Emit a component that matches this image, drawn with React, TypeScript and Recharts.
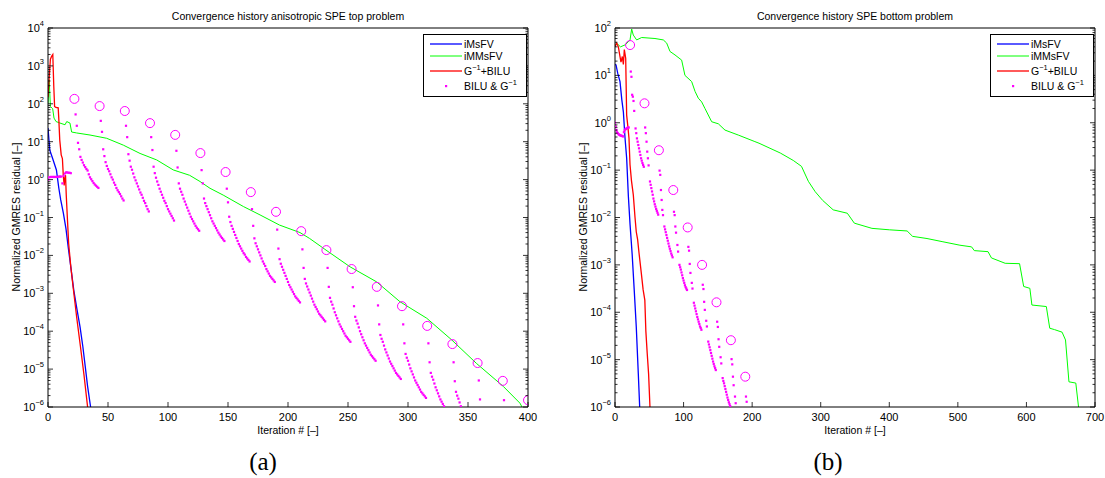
import React from 'react';
import { ComposedChart, Line, Scatter, XAxis, YAxis, Legend } from 'recharts';

// ---------- (a) anisotropic SPE top problem ----------
const xTicksA = [0, 50, 100, 150, 200, 250, 300, 350, 400];
const yMajorA = [1e-6, 1e-5, 1e-4, 1e-3, 1e-2, 1e-1, 1e0, 1e1, 1e2, 1e3, 1e4];

// [iteration, residual]
const msfvA = [[0, 23], [1.5, 6], [4, 3.5], [7, 1.8], [9, 0.6], [10.6, 0.29], [12.8, 0.13], [15, 0.05], [17, 0.015], [19, 5e-3], [21.5, 1.2e-3], [24, 4e-4], [26.7, 1.3e-4], [29, 4e-5], [31, 1.2e-5], [33, 3.5e-6], [35.5, 1e-6]];
const mmsfvA = [[0, 100], [1, 430], [2, 85], [3.9, 74], [5, 42], [6.7, 34], [10, 31], [14.2, 28], [15.6, 34], [18.3, 31], [19.7, 18], [23.9, 17], [35, 15], [48.9, 12.3], [62.8, 8.1], [76.7, 4.9], [90.6, 3.3], [104.4, 1.8], [118, 1.3], [126.7, 0.89], [135, 0.59], [146, 0.39], [162.8, 0.195], [176.7, 0.117], [193, 0.063], [210, 0.04], [218, 0.028], [231.7, 0.0138], [251.7, 0.005], [273.9, 0.002], [293.3, 6e-4], [315.6, 2.2e-4], [336.4, 5.9e-5], [357.2, 1.4e-5], [379.4, 3.5e-6], [393.3, 1.26e-6], [395, 1e-6]];
const gbiluA = [[0, 150], [1, 500], [2, 1500], [3, 1800], [4, 2000], [4.8, 300], [5.5, 85], [6.5, 80], [8.5, 78], [9, 40], [9.8, 11], [11, 4.5], [12, 3.6], [12.8, 1.2], [13.5, 0.7], [14, 1.1], [14.6, 1.3], [15.2, 0.4], [16, 0.12], [17.2, 0.021], [19, 5e-3], [21, 1.4e-3], [24, 2.2e-4], [27, 4e-5], [30, 7e-6], [33, 1e-6]];

// BILU & G^-1: log10 residual, first iterations 0..19
const earlyDotsA = [0.0, 0.06, 0.07, 0.07, 0.07, 0.07, 0.07, 0.07, 0.07, 0.08, 0.08, 0.08, -0.1, 0.1, 0.16, 0.19, 0.19, 0.18, 0.18, 0.17];
// restart iterations (circles) and their log10 residual
const restartsA = [22, 43, 64, 85, 106, 127, 148, 169, 190, 211, 232, 253, 274, 295, 316, 337, 358, 379, 400];
const circlesA = [2.13, 1.94, 1.81, 1.49, 1.18, 0.70, 0.20, -0.33, -0.85, -1.36, -1.86, -2.36, -2.83, -3.34, -3.86, -4.34, -4.84, -5.31, -5.82];
// log10 residual at iterations restart+1, restart+2, ...
const cyclesA: (number | null)[][] = [
  [1.72, 1.42, 0.97, 0.80, 0.60, 0.52, 0.45, 0.38, 0.33, 0.28, 0.24, 0.14, 0.06, 0.01, -0.04, -0.09, -0.13, -0.16, -0.19, -0.22],
  [1.55, 1.26, 0.80, 0.62, 0.46, 0.36, 0.28, 0.22, 0.14, 0.06, 0.0, -0.08, -0.14, -0.22, -0.28, -0.33, -0.38, -0.44, -0.50, -0.55],
  [1.42, 1.12, 0.67, 0.50, 0.34, 0.26, 0.16, 0.06, -0.02, -0.10, -0.18, -0.26, -0.34, -0.40, -0.48, -0.56, -0.62, -0.70, -0.78, -0.84],
  [1.12, 0.78, 0.34, 0.17, 0.05, -0.05, -0.14, -0.24, -0.32, -0.40, -0.48, -0.56, -0.62, -0.70, -0.78, -0.84, -0.90, -0.96, -1.02, -1.08],
  [0.76, 0.32, -0.10, -0.24, -0.32, -0.40, -0.50, -0.58, -0.66, -0.74, -0.82, -0.90, -0.98, -1.04, -1.10, -1.16, -1.22, -1.27, -1.31, -1.35],
  [0.25, -0.10, -0.50, -0.62, -0.70, -0.78, -0.86, -0.94, -1.02, -1.10, -1.16, -1.22, -1.28, -1.34, -1.40, -1.45, -1.50, -1.54, -1.58, -1.62],
  [-0.24, -0.60, -0.98, -1.12, -1.22, -1.30, -1.38, -1.46, -1.54, -1.62, -1.70, -1.76, -1.82, -1.88, -1.94, -1.98, -2.04, -2.08, -2.12, -2.16],
  [-0.78, -1.22, -1.55, -1.68, -1.76, -1.84, -1.92, -2.00, -2.08, -2.16, -2.22, -2.28, -2.36, -2.42, -2.48, -2.54, -2.58, -2.62, -2.66, -2.70],
  [-1.32, -1.82, -2.10, -2.22, -2.30, -2.38, -2.46, -2.54, -2.62, -2.70, -2.78, -2.84, -2.90, -2.96, -3.02, -3.08, -3.12, -3.16, -3.20, -3.24],
  [-1.84, -2.33, -2.62, -2.74, -2.82, -2.90, -2.98, -3.06, -3.14, -3.22, -3.30, -3.36, -3.42, -3.48, -3.54, -3.58, -3.62, -3.66, -3.70, -3.74],
  [-2.33, -2.83, -3.12, -3.22, -3.30, -3.40, -3.50, -3.58, -3.66, -3.74, -3.82, -3.88, -3.94, -4.00, -4.06, -4.12, -4.16, -4.20, -4.24, -4.28],
  [-2.84, -3.34, -3.62, -3.72, -3.80, -3.90, -4.00, -4.08, -4.16, -4.24, -4.32, -4.38, -4.44, -4.50, -4.56, -4.62, -4.66, -4.70, -4.74, -4.78],
  [-3.32, -3.82, -4.10, -4.20, -4.28, -4.38, -4.48, -4.56, -4.64, -4.72, -4.80, -4.86, -4.92, -4.98, -5.04, -5.10, -5.14, -5.18, -5.22, -5.26],
  [-3.82, -4.32, -4.60, -4.70, -4.78, -4.88, -4.98, -5.06, -5.14, -5.22, -5.30, -5.36, -5.42, -5.48, -5.54, -5.60, -5.64, -5.68, -5.72, -5.76],
  [-4.32, -4.82, -5.10, -5.20, -5.28, -5.38, -5.48, -5.56, -5.64, -5.72, -5.80, -5.86, -5.92, -5.98],
  [-4.82, -5.32, -5.60, -5.70, -5.78, -5.88, -5.98],
  [-5.30, -5.80],
  [-5.82],
  [],
];

// ---------- (b) SPE bottom problem ----------
const xTicksB = [0, 100, 200, 300, 400, 500, 600, 700];
const yMajorB = [1e-6, 1e-5, 1e-4, 1e-3, 1e-2, 1e-1, 1e0, 1e1, 1e2];

const msfvB = [[0, 17], [1.5, 16.6], [4, 11], [7.3, 7.4], [10, 3], [12.2, 1.7], [14.5, 0.5], [17, 0.18], [19.5, 0.028], [22, 7e-3], [25, 1.7e-3], [28, 3e-4], [31, 5e-5], [34, 5e-6], [36, 1e-6]];
const mmsfvB = [[0, 42], [2.4, 48], [8, 40], [14.6, 44], [19.4, 51], [21.9, 56], [24.3, 95], [26.7, 71], [31.6, 56], [38.9, 63], [58.3, 60], [70.5, 56], [75.4, 48], [80.2, 32], [87.5, 27], [97.2, 21], [102, 10], [111.8, 7.4], [116.7, 4.6], [121.5, 3.3], [126.4, 2.75], [131.2, 2.0], [141, 1.05], [150.7, 0.95], [160.4, 0.7], [179.8, 0.55], [204, 0.4], [210, 0.37], [241, 0.23], [260, 0.16], [272, 0.12], [282, 0.058], [292, 0.035], [302.8, 0.023], [318.2, 0.0145], [338.8, 0.0123], [349, 0.0076], [374.7, 0.0059], [400, 0.0055], [426, 0.0052], [434, 0.004], [455, 0.0036], [477, 0.0031], [503, 0.0026], [520, 0.0024], [524, 0.002], [544, 0.0019], [549, 0.0014], [569, 0.00108], [590, 0.00106], [596, 0.00035], [605, 0.00032], [608, 0.000142], [629, 0.000132], [634, 4.6e-5], [641, 4.3e-5], [652, 3.8e-5], [657, 2.6e-5], [662, 3.4e-6], [672, 3.2e-6], [676, 1e-6]];
const gbiluB = [[0, 40], [2.4, 48], [4.9, 40], [7.3, 25], [8.7, 19], [10.7, 25], [12.2, 17], [13.6, 35], [15.6, 23], [17, 1.45], [18.5, 0.9], [20.4, 0.47], [21.9, 0.13], [24, 0.06], [26.7, 0.03], [29.2, 0.01], [31, 5e-3], [33, 3.4e-3], [35, 1.8e-3], [38.4, 6.6e-4], [41, 3e-4], [43.5, 1.8e-4], [45, 4e-5], [47, 1.35e-5], [49, 5e-6], [51, 1e-6]];

const earlyDotsB = [0.0, -0.08, -0.15, -0.2, -0.22, -0.24, -0.25, -0.26, -0.27, -0.27, -0.28, -0.28, -0.29, -0.2, -0.16, -0.14, -0.13, -0.12, -0.11, -0.1, -0.1];
const restartsB = [22, 43, 64, 85, 106, 127, 148, 169, 190];
const circlesB = [1.64, 0.41, -0.58, -1.42, -2.21, -3.0, -3.79, -4.59, -5.36];
const cyclesB: (number | null)[][] = [
  [1.08, 0.97, 0.59, 0.55, 0.46, 0.25, null, -0.12, -0.22, -0.33, -0.40, -0.47, -0.54, -0.61, -0.68, -0.75, -0.80, -0.85, -0.89, -0.93],
  [-0.10, -0.22, -0.40, -0.61, -0.75, -0.90, null, -1.24, -1.31, -1.38, -1.45, -1.52, -1.60, -1.66, -1.72, -1.77, -1.82, -1.86, -1.90, -1.94],
  [-1.01, -1.10, -1.42, -1.63, -1.84, -1.95, null, -2.19, -2.25, -2.31, -2.37, -2.43, -2.49, -2.55, -2.61, -2.66, -2.71, -2.76, -2.80, -2.84],
  [-1.88, -1.95, -2.19, -2.32, null, -2.58, -2.72, null, -3.00, -3.05, -3.10, -3.16, -3.22, -3.28, -3.33, -3.38, -3.43, -3.47, -3.50, -3.53],
  [-2.62, -2.70, -2.98, -3.17, null, -3.38, -3.50, null, -3.80, -3.86, -3.92, -3.98, -4.04, -4.10, -4.15, -4.20, -4.25, -4.30, -4.33, -4.37],
  [-3.42, -3.51, -3.78, -3.95, null, -4.18, -4.30, null, -4.62, -4.68, -4.74, -4.80, -4.86, -4.92, -4.98, -5.04, -5.09, -5.14, -5.18, -5.22],
  [-4.20, -4.31, -4.57, -4.73, null, -4.95, -5.08, null, -5.39, -5.45, -5.50, -5.56, -5.62, -5.68, -5.74, -5.80, -5.85, -5.90, -5.94, -5.98],
  [-4.99, -5.10, -5.36, -5.54, null, -5.78, -5.92],
  [-5.78, -5.89],
];

// ---------- helpers ----------
const FONT = '"Liberation Sans", Arial, Helvetica, sans-serif';
const BLUE = '#0000ff';
const GREEN = '#00ff00';
const RED = '#ff0000';
const MAGENTA = '#ff00ff';

const toPts = (arr: number[][]) => arr.map(([x, y]) => ({ x, y }));

function dotPoints(early: number[], restarts: number[], cycles: (number | null)[][]) {
  const pts: { x: number; y: number }[] = early.map((v, i) => ({ x: i, y: Math.pow(10, v) }));
  cycles.forEach((cyc, k) => {
    cyc.forEach((v, i) => {
      if (v !== null) pts.push({ x: restarts[k] + i + 1, y: Math.pow(10, v) });
    });
  });
  return pts;
}
const circlePoints = (restarts: number[], logs: number[]) => restarts.map((x, i) => ({ x, y: Math.pow(10, logs[i]) }));

function withMinor(majors: number[]) {
  const out: number[] = [...majors];
  for (let i = 0; i < majors.length - 1; i++) for (let m = 2; m <= 9; m++) out.push(majors[i] * m);
  return out.sort((a, b) => a - b);
}
const isMajor = (v: number) => Math.abs(Math.log10(v) - Math.round(Math.log10(v))) < 1e-6;

const LeftTick = (p: any) => {
  const v = p.payload.value;
  const major = isMajor(v);
  const e = Math.round(Math.log10(v));
  return (
    <g>
      <line x1={p.x} x2={p.x + (major ? 5 : 2.5)} y1={p.y} y2={p.y} stroke="#000" strokeWidth={0.8} />
      {major && (
        <text x={p.x - 4} y={p.y + 4} textAnchor="end" fontSize={11} fontFamily={FONT} fill="#000">
          10<tspan dy={-6} fontSize={7.5}>{e < 0 ? '\u2212' + -e : e}</tspan>
        </text>
      )}
    </g>
  );
};
const RightTick = (p: any) => {
  const major = isMajor(p.payload.value);
  return <line x1={p.x} x2={p.x - (major ? 5 : 2.5)} y1={p.y} y2={p.y} stroke="#000" strokeWidth={0.8} />;
};
const BottomTick = (p: any) => (
  <g>
    <line x1={p.x} x2={p.x} y1={p.y} y2={p.y - 5} stroke="#000" strokeWidth={0.8} />
    <text x={p.x} y={p.y + 14} textAnchor="middle" fontSize={11} fontFamily={FONT} fill="#000">{p.payload.value}</text>
  </g>
);
const TopTick = (p: any) => <line x1={p.x} x2={p.x} y1={p.y} y2={p.y + 5} stroke="#000" strokeWidth={0.8} />;

const LegendBox = () => (
  <svg width={105} height={64} style={{ display: 'block' }}>
    <rect x={0.5} y={0.5} width={103} height={62} fill="#fff" stroke="#000" strokeWidth={1} />
    <line x1={7} x2={39} y1={10} y2={10} stroke={BLUE} strokeWidth={1.3} />
    <text x={41} y={14} fontSize={10.5} fontFamily={FONT}>iMsFV</text>
    <line x1={7} x2={39} y1={22} y2={22} stroke={GREEN} strokeWidth={1} />
    <text x={41} y={26} fontSize={10.5} fontFamily={FONT}>iMMsFV</text>
    <line x1={7} x2={39} y1={37} y2={37} stroke={RED} strokeWidth={1.3} />
    <text x={41} y={41} fontSize={10.5} fontFamily={FONT}>G<tspan dy={-5} fontSize={7.5}>{'\u22121'}</tspan><tspan dy={5}>+BILU</tspan></text>
    <rect x={22} y={51} width={2.2} height={2.2} fill={MAGENTA} />
    <text x={41} y={56} fontSize={10.5} fontFamily={FONT}>BILU &amp; G<tspan dy={-5} fontSize={7.5}>{'\u22121'}</tspan></text>
  </svg>
);

const DotShape = (p: any) => <rect x={p.cx - 1.1} y={p.cy - 1.1} width={2.2} height={2.2} fill={MAGENTA} />;
const RingShape = (p: any) => <circle cx={p.cx} cy={p.cy} r={4.5} fill="none" stroke={MAGENTA} strokeWidth={1} />;

type PanelProps = {
  left: number;
  xMax: number;
  xTicks: number[];
  yMajor: number[];
  msfv: number[][];
  mmsfv: number[][];
  gbilu: number[][];
  dots: { x: number; y: number }[];
  rings: { x: number; y: number }[];
};

function Panel({ left, xMax, xTicks, yMajor, msfv, mmsfv, gbilu, dots, rings }: PanelProps) {
  const yDomain = [yMajor[0], yMajor[yMajor.length - 1]];
  const yTicks = withMinor(yMajor);
  return (
    <div style={{ position: 'absolute', left, top: 0 }}>
      <ComposedChart width={550} height={478} margin={{ top: 27, right: 21, bottom: 41, left: 0 }}>
        <XAxis dataKey="x" type="number" domain={[0, xMax]} ticks={xTicks} interval={0} allowDataOverflow
          tickSize={0} tickMargin={0} tickLine={false} tick={(p: any) => <BottomTick {...p} />}
          axisLine={{ stroke: '#000' }} height={30} />
        <XAxis xAxisId="top" orientation="top" type="number" domain={[0, xMax]} ticks={xTicks} interval={0} allowDataOverflow
          tickSize={0} tickMargin={0} tickLine={false} tick={(p: any) => <TopTick {...p} />}
          axisLine={{ stroke: '#000' }} height={1} />
        <YAxis dataKey="y" scale="log" type="number" domain={yDomain} ticks={yTicks} interval={0} allowDataOverflow
          tickSize={0} tickMargin={0} tickLine={false} tick={(p: any) => <LeftTick {...p} />}
          axisLine={{ stroke: '#000' }} width={48} />
        <YAxis yAxisId="right" orientation="right" scale="log" type="number" domain={yDomain} ticks={yTicks} interval={0} allowDataOverflow
          tickSize={0} tickMargin={0} tickLine={false} tick={(p: any) => <RightTick {...p} />}
          axisLine={{ stroke: '#000' }} width={1} />
        <Line data={toPts(mmsfv)} dataKey="y" stroke={GREEN} strokeWidth={1} dot={false} isAnimationActive={false} type="linear" />
        <Line data={toPts(msfv)} dataKey="y" stroke={BLUE} strokeWidth={1.3} dot={false} isAnimationActive={false} type="linear" />
        <Line data={toPts(gbilu)} dataKey="y" stroke={RED} strokeWidth={1.3} dot={false} isAnimationActive={false} type="linear" />
        <Scatter data={dots} fill={MAGENTA} shape={DotShape} isAnimationActive={false} />
        <Scatter data={rings} fill={MAGENTA} shape={RingShape} isAnimationActive={false} />
        <Legend layout="vertical" align="center" verticalAlign="middle" content={() => <LegendBox />}
          wrapperStyle={{ left: 423, top: 34, width: 105, height: 64 }} />
      </ComposedChart>
    </div>
  );
}

const textStyle: React.CSSProperties = { position: 'absolute', fontFamily: FONT, fontSize: 10.5, color: '#000', whiteSpace: 'nowrap' };

export default function App() {
  return (
    <div style={{ position: 'absolute', left: 0, top: 0, width: 1105, height: 478, background: '#fff', overflow: 'hidden' }}>
      <Panel left={0} xMax={400} xTicks={xTicksA} yMajor={yMajorA} msfv={msfvA} mmsfv={mmsfvA} gbilu={gbiluA}
        dots={dotPoints(earlyDotsA, restartsA, cyclesA)} rings={circlePoints(restartsA, circlesA)} />
      <Panel left={567} xMax={700} xTicks={xTicksB} yMajor={yMajorB} msfv={msfvB} mmsfv={mmsfvB} gbilu={gbiluB}
        dots={dotPoints(earlyDotsB, restartsB, cyclesB)} rings={circlePoints(restartsB, circlesB)} />

      <div style={{ ...textStyle, left: 288, top: 10, transform: 'translateX(-50%)' }}>Convergence history anisotropic SPE top problem</div>
      <div style={{ ...textStyle, left: 855, top: 10, transform: 'translateX(-50%)' }}>Convergence history SPE bottom problem</div>

      <div style={{ ...textStyle, left: 16, top: 217, transform: 'translate(-50%, -50%) rotate(-90deg)' }}>Normalized GMRES residual [–]</div>
      <div style={{ ...textStyle, left: 583, top: 217, transform: 'translate(-50%, -50%) rotate(-90deg)' }}>Normalized GMRES residual [–]</div>

      <div style={{ ...textStyle, left: 288, top: 424, transform: 'translateX(-50%)' }}>Iteration # [–]</div>
      <div style={{ ...textStyle, left: 855, top: 424, transform: 'translateX(-50%)' }}>Iteration # [–]</div>

      <div style={{ ...textStyle, fontFamily: '"Liberation Serif", "DejaVu Serif", serif', fontSize: 25, left: 263, top: 448, transform: 'translateX(-50%)' }}>(a)</div>
      <div style={{ ...textStyle, fontFamily: '"Liberation Serif", "DejaVu Serif", serif', fontSize: 25, left: 828, top: 448, transform: 'translateX(-50%)' }}>(b)</div>
    </div>
  );
}
